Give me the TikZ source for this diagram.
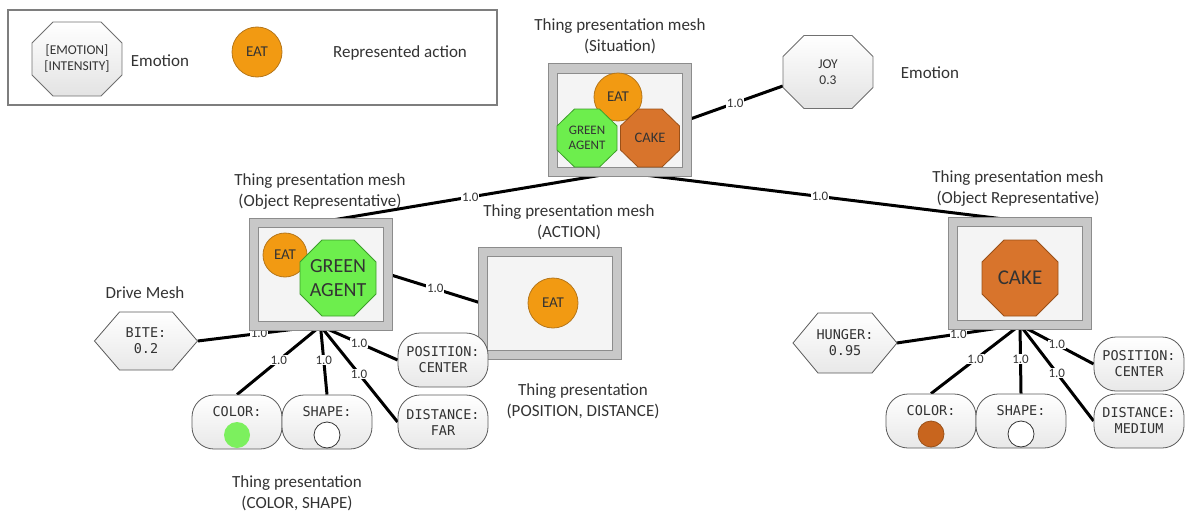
\documentclass[tikz,border=0pt]{standalone}
\usepackage{fontspec}
\setmainfont{Carlito}
\newfontfamily\codefont{DejaVu Sans Mono}
\usetikzlibrary{backgrounds}

\newcommand\setfs[2]{\fontsize{#1}{#2}\selectfont}
% clipped-corner polygon: style, centre x, centre y, half width, half height,
% horizontal cut, vertical cut (octagons; a vertical cut equal to the half
% height gives a pointed hexagon)
\newcommand\cutcorners[7]{%
  \path[#1] (#2,#3) ++({-#4+#6},{-#5}) -- ++({2*#4-2*#6},0) -- ++(#6,#7)
    -- ++(0,{2*#5-2*#7}) -- ++(-#6,#7) -- ++({-2*#4+2*#6},0) -- ++(-#6,-#7)
    -- ++(0,{-2*#5+2*#7}) -- cycle;}

\definecolor{txt}{HTML}{333333}
\definecolor{eatfill}{HTML}{F29A12}
\definecolor{eatline}{HTML}{B5761A}
\definecolor{greenfill}{HTML}{6DEE4D}
\definecolor{greenline}{HTML}{3C9E2A}
\definecolor{cakefill}{HTML}{D8742C}
\definecolor{cakeline}{HTML}{9A5018}
\definecolor{band}{HTML}{C8C8C8}
\definecolor{bandline}{HTML}{8C8C8C}
\definecolor{panel}{HTML}{F4F4F4}
\definecolor{pillline}{HTML}{5A5A5A}
\definecolor{emoline}{HTML}{707070}
\definecolor{legendline}{HTML}{7E7E7E}
\definecolor{dotorange}{HTML}{C8651E}
\definecolor{dotgreen}{HTML}{7CF05E}

\tikzset{
  heading/.style={align=center, text=txt, font=\setfs{17}{21}, inner sep=0},
  meshframe/.style={draw=bandline, double=band, double distance=8pt, fill=panel,
    line width=1pt, minimum width=134pt, minimum height=103pt, inner sep=0},
  eat/.style={circle, draw=eatline, fill=eatfill, line width=0.8pt, minimum size=#1,
    inner sep=0, text=txt, font=\setfs{15}{15}},
  greenpoly/.style={draw=greenline, fill=greenfill, line width=0.8pt},
  cakepoly/.style={draw=cakeline, fill=cakefill, line width=0.8pt},
  greypoly/.style={draw=emoline, top color=white, bottom color=black!11, line width=0.8pt},
  hexpoly/.style={draw=pillline, top color=white, bottom color=black!9, line width=0.8pt},
  polylabel/.style={rectangle, inner sep=0, align=center, text=txt},
  emotext/.style={polylabel, minimum width=90pt, minimum height=74pt, font=\setfs{13.5}{16}},
  hextext/.style={polylabel, minimum width=103pt, minimum height=58pt,
    font=\codefont\setfs{13.5}{16}},
  pill/.style={rectangle, rounded corners=22pt, minimum width=90pt, minimum height=54pt,
    inner sep=0, draw=pillline, line width=0.8pt, top color=white, bottom color=black!9,
    align=center, text=txt, font=\codefont\setfs{13.5}{16}},
  pilltext/.style={inner sep=0, text=txt, font=\codefont\setfs{13.5}{16}},
  dot/.style={circle, minimum size=26pt, inner sep=0, line width=0.8pt},
  conn/.style={line width=3pt, black},
  wt/.style={midway, fill=white, inner sep=0.6pt, text=txt, font=\setfs{13}{13}},
}

\begin{document}
\begin{tikzpicture}[x=1pt, y=-1pt]
\useasboundingbox (0,0) rectangle (1185,511);

% ---------- legend ----------
\node[draw=legendline, line width=1.2pt, minimum width=489pt, minimum height=95pt,
      inner sep=0] (legend) at (252.5,57.5) {};
\cutcorners{greypoly}{77}{59}{45}{37}{21}{21}
\node[emotext] (legendemo) at (77,59) {{[EMOTION]}\\{[INTENSITY]}};
\node[heading] (legendemotxt) at (160,61) {Emotion};
\node[eat=50pt] (legendeat) at (257,52) {EAT};
\node[heading] (legendeattxt) at (400,53) {Represented action};

% ---------- situation mesh ----------
\node[heading] (sithead) at (620,36) {Thing presentation mesh\\(Situation)};
\node[meshframe] (sit) at (620,120) {};
\node[eat=48pt] (siteat) at (618,97) {EAT};
\cutcorners{greenpoly}{587}{138}{30}{29}{17.5}{17}
\node[polylabel, font=\setfs{13}{15}] (sitgreen) at (587,138) {GREEN\\AGENT};
\cutcorners{cakepoly}{650}{138}{29.5}{29}{17.5}{17}
\node[polylabel, font=\setfs{14.5}{15}] (sitcake) at (650,138) {CAKE};

% emotion attached to the situation
\cutcorners{greypoly}{828}{72}{45}{36.5}{21}{21}
\node[emotext] (joy) at (828,72) {JOY\\0.3};
\node[heading] (joyhead) at (930,73) {Emotion};

% ---------- object representative: agent ----------
\node[heading] (agenthead) at (320,192) {Thing presentation mesh\\(Object Representative)};
\node[meshframe] (agent) at (320.5,274) {};
\node[eat=44pt] (agenteat) at (285,255) {EAT};
\cutcorners{greenpoly}{338}{278}{38}{38}{22}{22}
\node[polylabel, font=\setfs{20}{24}] (agentgreen) at (338,278) {GREEN\\AGENT};

% ---------- action mesh ----------
\node[heading] (acthead) at (569,222) {Thing presentation mesh\\(ACTION)};
\node[meshframe] (act) at (550,303.5) {};
\node[eat=50pt] (acteat) at (553,303) {EAT};

% ---------- object representative: cake ----------
\node[heading] (cakehead) at (1018,189) {Thing presentation mesh\\(Object Representative)};
\node[meshframe] (cake) at (1020,273) {};
\cutcorners{cakepoly}{1020}{278}{38}{38}{22}{22}
\node[polylabel, font=\setfs{21}{24}] (cakeoct) at (1020,278) {CAKE};

% ---------- drive meshes ----------
\node[heading] (drivehead) at (145,293) {Drive Mesh};
\cutcorners{hexpoly}{146}{341}{51.5}{29}{25}{29}
\node[hextext] (bite) at (146,341) {BITE:\\0.2};
\cutcorners{hexpoly}{845}{343}{52}{30}{25}{30}
\node[hextext] (hunger) at (845,343) {HUNGER:\\0.95};

% ---------- thing presentations of the agent ----------
\node[pill] (lcolor) at (237,422) {};
\node[pilltext] (lcolortxt) at ([yshift=10pt]lcolor.center) {COLOR:};
\node[dot, fill=dotgreen] (lcolordot) at ([yshift=-13pt]lcolor.center) {};
\node[pill] (lshape) at (327,422) {};
\node[pilltext] (lshapetxt) at ([yshift=10pt]lshape.center) {SHAPE:};
\node[dot, draw=black!80, fill=white] (lshapedot) at ([yshift=-13pt]lshape.center) {};
\node[pill] (lpos) at (443,360) {POSITION:\\CENTER};
\node[pill] (ldist) at (443,422) {DISTANCE:\\FAR};
\node[heading] (lcshead) at (297,493) {Thing presentation\\(COLOR, SHAPE)};
\node[heading] (lpdhead) at (583,401) {Thing presentation\\(POSITION, DISTANCE)};

% ---------- thing presentations of the cake ----------
\node[pill] (rcolor) at (931,421) {};
\node[pilltext] (rcolortxt) at ([yshift=10pt]rcolor.center) {COLOR:};
\node[dot, draw=cakeline, fill=dotorange] (rcolordot) at ([yshift=-13pt]rcolor.center) {};
\node[pill] (rshape) at (1021,421) {};
\node[pilltext] (rshapetxt) at ([yshift=10pt]rshape.center) {SHAPE:};
\node[dot, draw=black!80, fill=white] (rshapedot) at ([yshift=-13pt]rshape.center) {};
\node[pill] (rpos) at (1139,364) {POSITION:\\CENTER};
\node[pill] (rdist) at (1139,421) {DISTANCE:\\MEDIUM};

% ---------- weighted associations ----------
\begin{scope}[on background layer]
  \draw[conn] (sit.east) -- node[wt] {1.0} ([yshift=-14pt]joy.west);
  \draw[conn] (sit.south) -- node[wt] {1.0} (agent.north);
  \draw[conn] (sit.south) -- node[wt] {1.0} (cake.north);
  \draw[conn] (agent.east) -- node[wt] {1.0} (act.west);

  \draw[conn] (agent.south) -- node[wt] {1.0} (bite.east);
  \draw[conn] (agent.south) -- node[wt] {1.0} (lcolor.north);
  \draw[conn] (agent.south) -- node[wt] {1.0} (lshape.north);
  \draw[conn] (agent.south) -- node[wt] {1.0} (lpos.west);
  \draw[conn] (agent.south) -- node[wt] {1.0} (ldist.west);

  \draw[conn] (cake.south) -- node[wt] {1.0} (hunger.east);
  \draw[conn] (cake.south) -- node[wt] {1.0} (rcolor.north);
  \draw[conn] (cake.south) -- node[wt] {1.0} (rshape.north);
  \draw[conn] (cake.south) -- node[wt] {1.0} (rpos.west);
  \draw[conn] (cake.south) -- node[wt] {1.0} (rdist.west);
\end{scope}
\end{tikzpicture}
\end{document}
